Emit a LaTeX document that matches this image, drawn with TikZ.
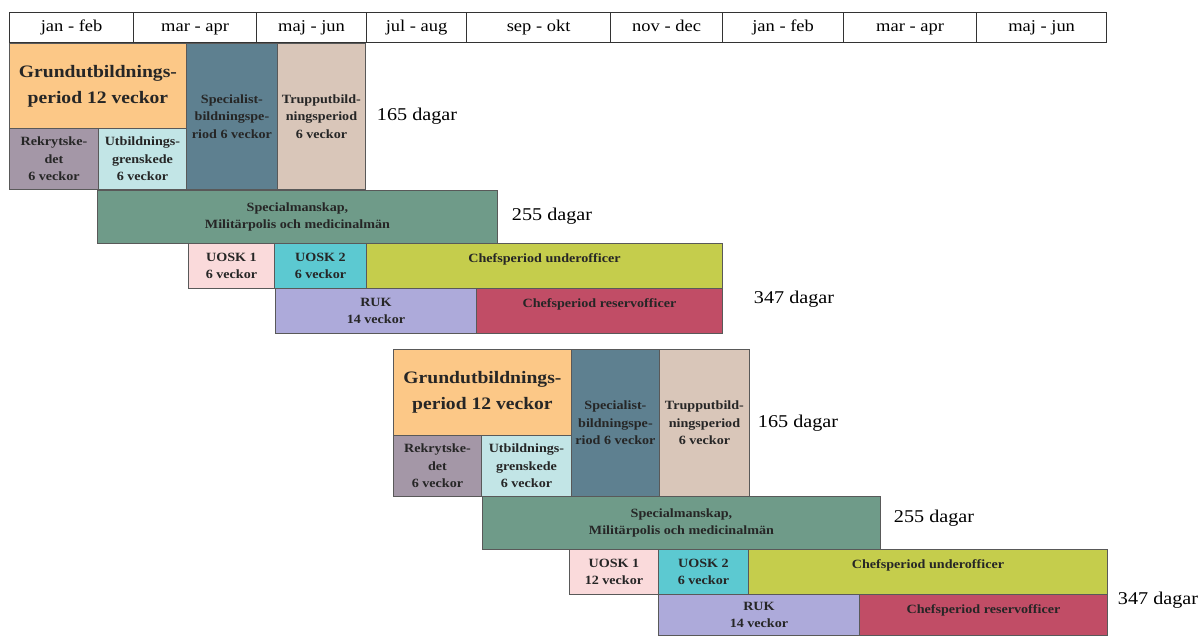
\documentclass[tikz,border=0pt]{standalone}
\usepackage{fontspec}
\setmainfont[FakeStretch=1.12]{Liberation Serif}
\usepackage{tikz}

\definecolor{grundc}{RGB}{252,200,135}
\definecolor{specc}{RGB}{94,128,144}
\definecolor{truppc}{RGB}{217,198,185}
\definecolor{rekrc}{RGB}{164,151,167}
\definecolor{utbc}{RGB}{194,229,230}
\definecolor{smanc}{RGB}{111,155,137}
\definecolor{uoskac}{RGB}{250,218,219}
\definecolor{uoskbc}{RGB}{92,201,209}
\definecolor{chuoc}{RGB}{197,205,76}
\definecolor{rukc}{RGB}{173,170,218}
\definecolor{chroc}{RGB}{193,77,102}

\newcommand\boxfont{\fontsize{12.6}{17.5}\selectfont\bfseries}
\newcommand\bigfont{\fontsize{17.5}{26}\selectfont\bfseries}

\begin{document}
\begin{tikzpicture}[
      x=1pt, y=-1pt,
      month/.style={draw=black!80, line width=1.2pt, anchor=north west,
        minimum height=30pt, inner sep=0pt, text height=12pt, text depth=4pt,
        font=\fontsize{16.5}{18}\selectfont},
      box/.style={draw=black!65, line width=0.9pt, anchor=north west,
        inner sep=0pt, align=center, text=black!85, font=\boxfont},
      topbox/.style={box, text height=19pt, text depth=26pt},
      days/.style={text height=12pt, text depth=4pt, font=\fontsize{18}{20}\selectfont}
      ]

  \useasboundingbox (0,0) rectangle (1200,636);

  % months
  \foreach \xa/\xb/\mon [count=\i] in {9/133/jan - feb, 133/256/mar - apr,
      256/366/maj - jun, 366/466/jul - aug, 466/610/sep - okt,
      610/722/nov - dec, 722/843/jan - feb, 843/976/mar - apr, 976/1106/maj - jun}
    \node[month, minimum width={(\xb-\xa)*1pt}] (m\i) at (\xa,12) {\mon};

  % first intake
  \node[box, fill=grundc, minimum width=177pt, minimum height=85pt, font=\bigfont]
    (grund1) at (9,43) {Grundutbildnings-\\period 12 veckor};
  \node[box, fill=specc, minimum width=91pt, minimum height=146pt]
    (spec1) at (186,43) {Specialist-\\bildningspe-\\riod 6 veckor};
  \node[box, fill=truppc, minimum width=88pt, minimum height=146pt]
    (trupp1) at (277,43) {Trupputbild-\\ningsperiod\\6 veckor};
  \node[box, fill=rekrc, minimum width=89pt, minimum height=61pt]
    (rekr1) at (9,128) {Rekrytske-\\det\\6 veckor};
  \node[box, fill=utbc, minimum width=88pt, minimum height=61pt]
    (utb1) at (98,128) {Utbildnings-\\grenskede\\6 veckor};
  \node[box, fill=smanc, minimum width=400pt, minimum height=53pt]
    (sman1) at (97,190) {Specialmanskap,\\Militärpolis och medicinalmän};
  \node[box, fill=uoskac, minimum width=86pt, minimum height=45pt]
    (uoska1) at (188,243) {UOSK 1\\6 veckor};
  \node[box, fill=uoskbc, minimum width=92pt, minimum height=45pt]
    (uoskb1) at (274,243) {UOSK 2\\6 veckor};
  \node[topbox, fill=chuoc, minimum width=356pt]
    (chuo1) at (366,243) {Chefsperiod underofficer};
  \node[box, fill=rukc, minimum width=201pt, minimum height=45pt]
    (ruk1) at (275,288) {RUK\\14 veckor};
  \node[topbox, fill=chroc, minimum width=246pt]
    (chro1) at (476,288) {Chefsperiod reservofficer};

  \node[days] (dga1) at (417,117) {165 dagar};
  \node[days] (dgb1) at (552,217) {255 dagar};
  \node[days] (dgc1) at (794,300) {347 dagar};

  % second intake
  \node[box, fill=grundc, minimum width=178pt, minimum height=86pt, font=\bigfont]
    (grund2) at (393,349) {Grundutbildnings-\\period 12 veckor};
  \node[box, fill=specc, minimum width=88pt, minimum height=147pt]
    (spec2) at (571,349) {Specialist-\\bildningspe-\\riod 6 veckor};
  \node[box, fill=truppc, minimum width=90pt, minimum height=147pt]
    (trupp2) at (659,349) {Trupputbild-\\ningsperiod\\6 veckor};
  \node[box, fill=rekrc, minimum width=88pt, minimum height=61pt]
    (rekr2) at (393,435) {Rekrytske-\\det\\6 veckor};
  \node[box, fill=utbc, minimum width=90pt, minimum height=61pt]
    (utb2) at (481,435) {Utbildnings-\\grenskede\\6 veckor};
  \node[box, fill=smanc, minimum width=398pt, minimum height=53pt]
    (sman2) at (482,496) {Specialmanskap,\\Militärpolis och medicinalmän};
  \node[box, fill=uoskac, minimum width=89pt, minimum height=45pt]
    (uoska2) at (569,549) {UOSK 1\\12 veckor};
  \node[box, fill=uoskbc, minimum width=90pt, minimum height=45pt]
    (uoskb2) at (658,549) {UOSK 2\\6 veckor};
  \node[topbox, fill=chuoc, minimum width=359pt]
    (chuo2) at (748,549) {Chefsperiod underofficer};
  \node[box, fill=rukc, minimum width=201pt, minimum height=41pt]
    (ruk2) at (658,594) {RUK\\14 veckor};
  \node[topbox, fill=chroc, minimum width=248pt, text depth=22pt]
    (chro2) at (859,594) {Chefsperiod reservofficer};

  \node[days] (dga2) at (798,423) {165 dagar};
  \node[days] (dgb2) at (934,518) {255 dagar};
  \node[days] (dgc2) at (1158,600) {347 dagar};

\end{tikzpicture}
\end{document}
